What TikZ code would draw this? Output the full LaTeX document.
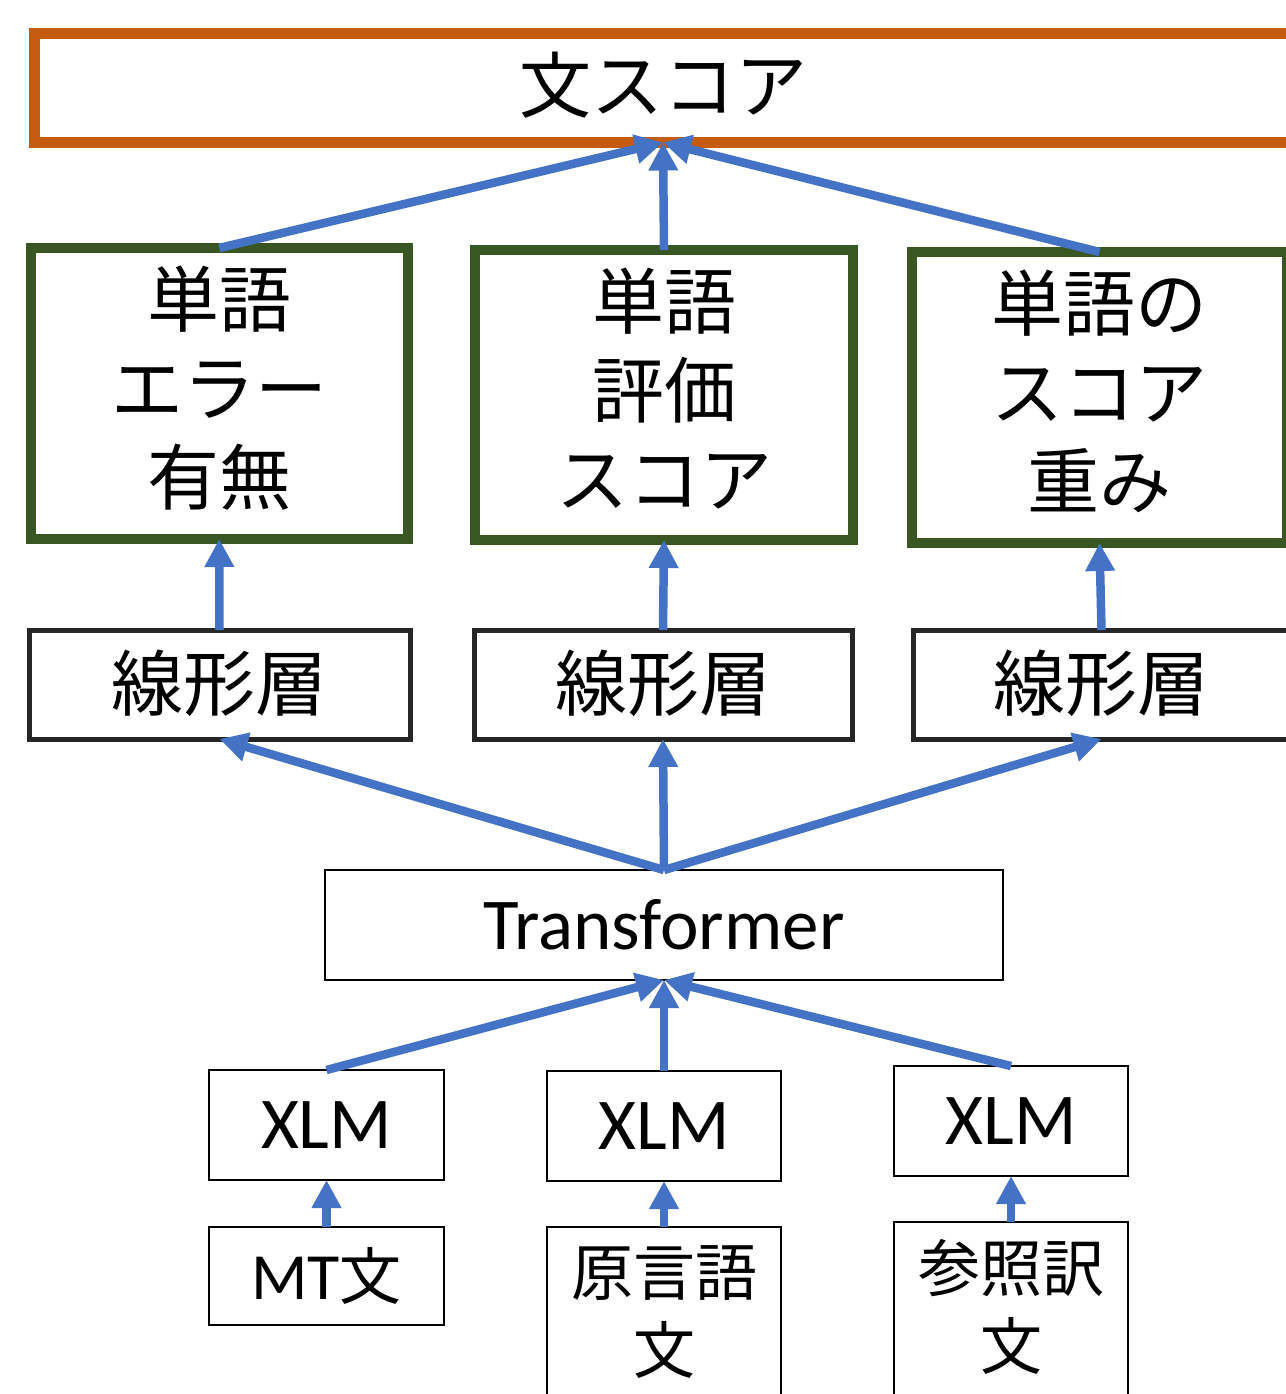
\documentclass[tikz,border=0pt]{standalone}
\usepackage{fontspec}
\setmainfont{Noto Sans CJK JP}
\newfontfamily\lat{Carlito}
\usetikzlibrary{arrows.meta}
\definecolor{orng}{HTML}{C55A11}
\definecolor{grn}{HTML}{385723}
\definecolor{dgray}{HTML}{262626}
\definecolor{blu}{HTML}{4472C4}
\begin{document}
\begin{tikzpicture}[x=1pt,y=-1pt,
  box/.style={draw, rectangle, inner sep=0pt, outer sep=0pt, align=center},
  topbox/.style={box, draw=orng, line width=11pt, font=\fontsize{72}{89}\selectfont, text height=55pt, text depth=6pt},
  gbox/.style={box, draw=grn, line width=10pt, font=\fontsize{72}{89}\selectfont, text height=230pt, text depth=8pt},
  lbox/.style={box, draw=dgray, line width=5pt, font=\fontsize{72}{89}\selectfont, text height=58pt, text depth=6pt},
  thinbox/.style={box, draw=black, line width=2.5pt},
  latbox/.style={thinbox, font=\lat\fontsize{73}{89}\selectfont},
  jbox/.style={thinbox, font=\fontsize{62}{78}\selectfont},
  arr/.style={draw=blu, line width=8.5pt, -{Triangle[length=28pt,width=28pt]}}
]
\useasboundingbox (0,0) rectangle (1285,1394);
\fill[white] (0,0) rectangle (1285,1394);

\node[topbox, minimum width=1258pt, minimum height=109pt] (top) at (663,88) {文スコア};

\node[gbox, minimum width=376.5pt, minimum height=291pt] (g1) at (219.25,393.5) {単語\\エラー\\有無};
\node[gbox, minimum width=378pt, minimum height=290pt] (g2) at (664,395) {単語\\評価\\スコア};
\node[gbox, minimum width=375pt, minimum height=291pt] (g3) at (1099.5,397.5) {単語の\\スコア\\重み};

\node[lbox, minimum width=381pt, minimum height=109pt] (l1) at (219.5,684.5) {線形層};
\node[lbox, minimum width=378pt, minimum height=109pt] (l2) at (663,684.5) {線形層};
\node[lbox, minimum width=377pt, minimum height=109pt] (l3) at (1101.5,684.5) {線形層};

\node[latbox, minimum width=678pt, minimum height=110pt] (tr) at (664,925) {Transformer};

\node[latbox, minimum width=235pt, minimum height=110pt] (x1) at (326.5,1125) {XLM};
\node[latbox, minimum width=234pt, minimum height=110pt] (x2) at (664,1126) {XLM};
\node[latbox, minimum width=234pt, minimum height=110pt] (x3) at (1011,1121) {XLM};

\node[jbox, minimum width=235pt, minimum height=98pt] (s1) at (326.5,1276) {{\lat\fontsize{66}{78}\selectfont MT}文};
\node[jbox, minimum width=234pt, minimum height=173pt, text height=126pt, text depth=6pt] (s2) at (664,1313.5) {原言語\\文};
\node[jbox, minimum width=234pt, minimum height=178pt, text height=122pt, text depth=6pt] (s3) at (1011,1311) {参照訳\\文};

\draw[arr] (g1.north) -- (top.south);
\draw[arr] (g2.north) -- (top.south);
\draw[arr] (g3.north) -- (top.south);

\draw[arr] (l1.north) -- (g1.south);
\draw[arr] (l2.north) -- (g2.south);
\draw[arr] (l3.north) -- (g3.south);

\draw[arr] (tr.north) -- (l1.south);
\draw[arr] (tr.north) -- (l2.south);
\draw[arr] (tr.north) -- (l3.south);

\draw[arr] (x1.north) -- (tr.south);
\draw[arr] (x2.north) -- (tr.south);
\draw[arr] (x3.north) -- (tr.south);

\draw[arr] (s1.north) -- (x1.south);
\draw[arr] (s2.north) -- (x2.south);
\draw[arr] (s3.north) -- (x3.south);
\end{tikzpicture}
\end{document}
